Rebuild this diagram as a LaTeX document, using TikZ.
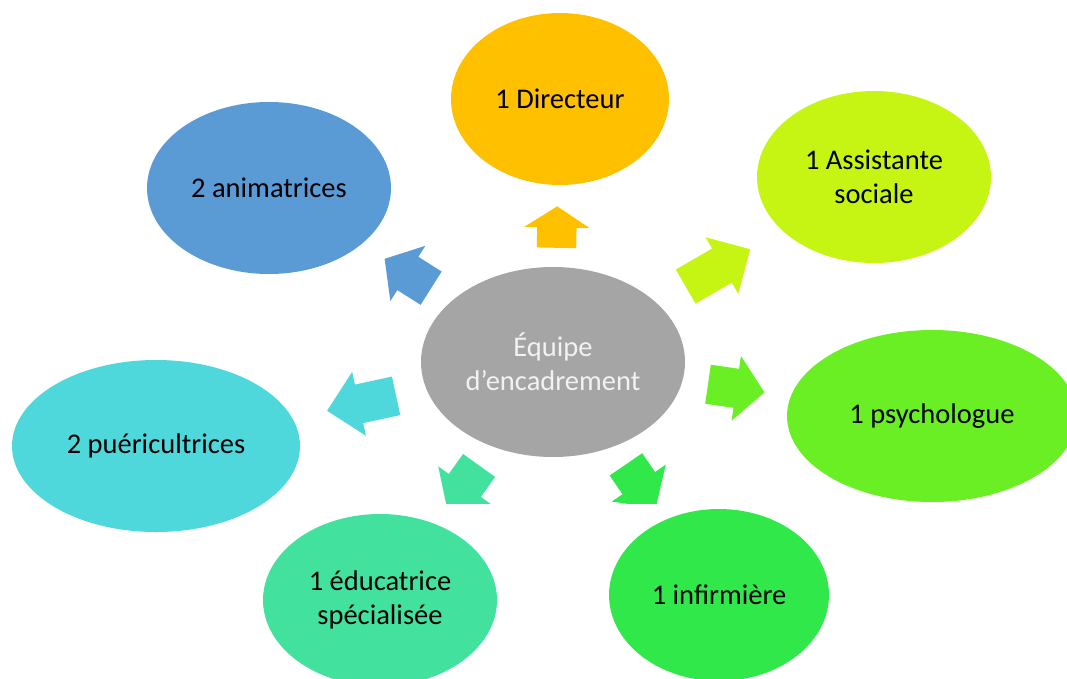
\documentclass[tikz,border=0pt]{standalone}
\usepackage{fontspec}
\setmainfont{Carlito}
\usetikzlibrary{shapes.geometric,shapes.arrows}
\definecolor{cdir}{HTML}{FFC000}
\definecolor{canim}{HTML}{5B9BD5}
\definecolor{cassist}{HTML}{C6F514}
\definecolor{cpsy}{HTML}{6AEE24}
\definecolor{cinf}{HTML}{30E84A}
\definecolor{ceduc}{HTML}{42E29E}
\definecolor{cpuer}{HTML}{4FD8DC}
\definecolor{cequipe}{HTML}{A5A5A5}
\begin{document}
\begin{tikzpicture}[x=1pt,y=-1pt,
  bulle/.style={ellipse,inner sep=0pt,align=center,font=\fontsize{28.5}{34}\selectfont},
  fleche/.style={single arrow,inner xsep=0pt,inner ysep=19.5pt,minimum width=65pt,single arrow head extend=13pt,anchor=tail}]
  \path[use as bounding box] (0,0) rectangle (1067,679);
  \clip (0,0) rectangle (1067,679);

  \node[bulle,fill=cequipe,text=white!95!black,minimum width=264pt,minimum height=190pt] (equipe) at (553,362) {Équipe\\d’encadrement};
  \node[bulle,fill=cdir,minimum width=218pt,minimum height=172pt] (dir) at (560,99) {1 Directeur};
  \node[bulle,fill=cassist,minimum width=234pt,minimum height=172pt] (assist) at (874,177) {1 Assistante\\sociale};
  \node[bulle,fill=cpsy,minimum width=290pt,minimum height=172pt] (psy) at (932,416) {1 psychologue};
  \node[bulle,fill=cinf,minimum width=220pt,minimum height=172pt] (inf) at (719,595) {1 infirmière};
  \node[bulle,fill=ceduc,minimum width=234pt,minimum height=172pt] (educ) at (380,600) {1 éducatrice\\spécialisée};
  \node[bulle,fill=cpuer,minimum width=288pt,minimum height=172pt] (puer) at (156,446) {2 puéricultrices};
  \node[bulle,fill=canim,minimum width=244pt,minimum height=172pt] (anim) at (269,188) {2 animatrices};

  % fleches
  \node[fleche,fill=cdir,minimum height=41.5pt,single arrow tip angle=114,rotate=89] (fdir) at (556.5,248) {};
  \node[fleche,fill=canim,minimum height=55pt,single arrow tip angle=100,rotate=147.7] (fanim) at (431.3,288.3) {};
  \node[fleche,fill=cassist,minimum height=74.6pt,single arrow tip angle=90,rotate=30.1] (fassist) at (685.5,286.7) {};
  \node[fleche,fill=cpuer,minimum height=70.6pt,single arrow tip angle=90,rotate=192.2] (fpuer) at (396.3,395.8) {};
  \node[fleche,fill=cpsy,minimum height=57pt,single arrow tip angle=98,rotate=-8.2] (fpsy) at (707.8,384.2) {};
  \begin{scope}
    \clip (0,0) rectangle (1067,503.5);
    \node[fleche,fill=ceduc,minimum height=54.5pt,single arrow tip angle=95,rotate=234.4] (feduc) at (479.2,465.3) {};
    \node[fleche,fill=cinf,minimum height=52.7pt,single arrow tip angle=95,rotate=-55.6] (finf) at (625.8,464.2) {};
  \end{scope}
\end{tikzpicture}
\end{document}
